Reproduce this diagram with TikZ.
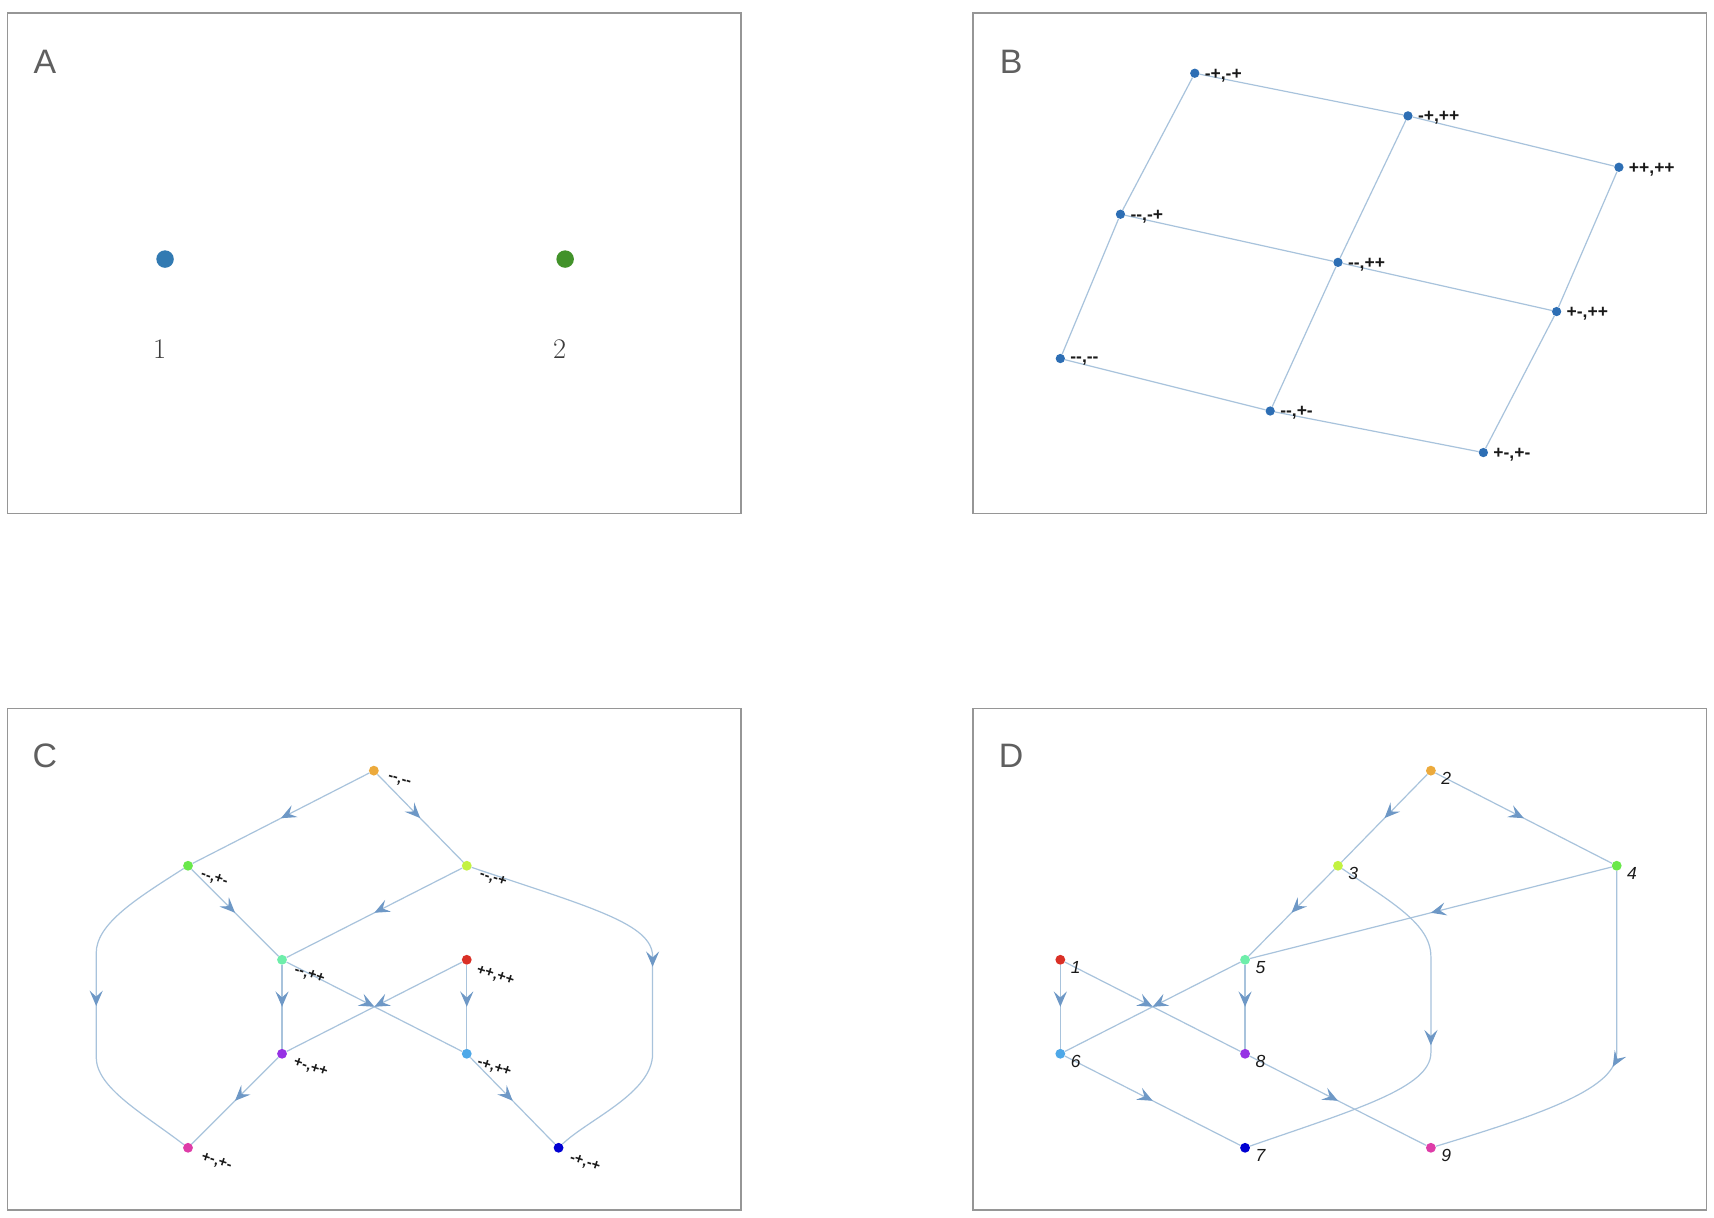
\documentclass[tikz,border=0pt]{standalone}
\usepackage{fontspec}
\newfontfamily\lsans[Ligatures=TeXOff]{Liberation Sans}
\usetikzlibrary{arrows.meta,decorations.markings,calc}
\definecolor{framegray}{RGB}{150,150,150}
\definecolor{labgray}{RGB}{95,95,95}
\definecolor{numgray}{RGB}{60,60,60}
\definecolor{labblack}{RGB}{25,25,25}
\definecolor{edgeblue}{RGB}{168,195,220}
\definecolor{arrowblue}{RGB}{110,152,198}
\definecolor{bblue}{RGB}{45,110,180}
\definecolor{adotblue}{RGB}{50,122,178}
\definecolor{adotgreen}{RGB}{66,146,42}
\definecolor{corange}{RGB}{236,170,60}
\definecolor{cgreen}{RGB}{105,232,75}
\definecolor{cygreen}{RGB}{195,242,65}
\definecolor{cmint}{RGB}{110,238,170}
\definecolor{cred}{RGB}{218,48,38}
\definecolor{cpurple}{RGB}{150,50,228}
\definecolor{clblue}{RGB}{78,168,232}
\definecolor{cpink}{RGB}{222,60,168}
\definecolor{cblue}{RGB}{0,0,210}
\begin{document}
\begin{tikzpicture}[x=1pt,y=-1pt,
  frame/.style={draw=framegray,line width=1.3pt},
  panellabel/.style={font=\lsans\fontsize{31}{31}\selectfont,text=labgray,inner sep=0},
  adot/.style={circle,inner sep=0,minimum size=16pt},
  anum/.style={font=\rmfamily\fontsize{26}{26}\selectfont,text=numgray,inner sep=0},
  bdot/.style={circle,fill=bblue,inner sep=0,minimum size=8.5pt},
  blab/.style={font=\lsans\bfseries\fontsize{16}{16}\selectfont,text=labblack,anchor=west,inner sep=0},
  bedge/.style={draw=edgeblue,line width=1.1pt},
  gdot/.style={circle,inner sep=0,minimum size=9pt},
  clab/.style={font=\lsans\bfseries\fontsize{13.5}{13.5}\selectfont,text=labblack,rotate=-18,inner sep=0},
  dlab/.style={font=\lsans\itshape\fontsize{16}{16}\selectfont,text=labblack,inner sep=0},
  dedge/.style={draw=edgeblue,line width=1.1pt,postaction={decorate},
    decoration={markings,mark=at position 0.5 with {\arrow[color=arrowblue]{Stealth[length=14pt,width=12pt,inset=5.5pt]}}}}
]
\useasboundingbox (0,0) rectangle (1568,1114);
\fill[white] (0,0) rectangle (1568,1114);

% ---------- Panel A ----------
\draw[frame] (7,12) rectangle (678,470);
\node[panellabel] (lA) at (41,57) {A};
\node[adot,fill=adotblue] (a1) at (151,237) {};
\node[adot,fill=adotgreen] (a2) at (517,237) {};
\node[anum] (n1) at (146,319) {1};
\node[anum] (n2) at (512,319) {2};

% ---------- Panel B ----------
\draw[frame] (890,12) rectangle (1561,470);
\node[panellabel] (lB) at (925,57) {B};
\node[bdot] (b1) at (1093,67) {};
\node[bdot] (b2) at (1288,106) {};
\node[bdot] (b3) at (1481,153) {};
\node[bdot] (b4) at (1025,196) {};
\node[bdot] (b5) at (1224,240) {};
\node[bdot] (b6) at (1424,285) {};
\node[bdot] (b7) at (970,328) {};
\node[bdot] (b8) at (1162,376) {};
\node[bdot] (b9) at (1357,414) {};
\draw[bedge] (b1) -- (b2) -- (b3);
\draw[bedge] (b4) -- (b5) -- (b6);
\draw[bedge] (b7) -- (b8) -- (b9);
\draw[bedge] (b1) -- (b4) -- (b7);
\draw[bedge] (b2) -- (b5) -- (b8);
\draw[bedge] (b3) -- (b6) -- (b9);
\node[blab] (tb1) at ($(b1)+(9,2)$) {-+,-+};
\node[blab] (tb2) at ($(b2)+(9,2)$) {-+,++};
\node[blab] (tb3) at ($(b3)+(9,2)$) {++,++};
\node[blab] (tb4) at ($(b4)+(9,2)$) {--,-+};
\node[blab] (tb5) at ($(b5)+(9,2)$) {--,++};
\node[blab] (tb6) at ($(b6)+(9,2)$) {+-,++};
\node[blab] (tb7) at ($(b7)+(9,2)$) {--,--};
\node[blab] (tb8) at ($(b8)+(9,2)$) {--,+-};
\node[blab] (tb9) at ($(b9)+(9,2)$) {+-,+-};

% ---------- Panel C ----------
\draw[frame] (7,648) rectangle (678,1107);
\node[panellabel] (lC) at (41,691) {C};
\node[gdot,fill=corange] (c1) at (342,705) {};
\node[gdot,fill=cgreen]  (c2) at (172,792) {};
\node[gdot,fill=cygreen] (c3) at (427,792) {};
\node[gdot,fill=cmint]   (c4) at (258,878) {};
\node[gdot,fill=cred]    (c5) at (427,878) {};
\node[gdot,fill=cpurple] (c6) at (258,964) {};
\node[gdot,fill=clblue]  (c7) at (427,964) {};
\node[gdot,fill=cpink]   (c8) at (172,1050) {};
\node[gdot,fill=cblue]   (c9) at (511,1050) {};
\draw[dedge] (c1) -- (c2);
\draw[dedge] (c1) -- (c3);
\draw[dedge] (c2) -- (c4);
\draw[dedge] (c3) -- (c4);
\draw[dedge] (c4) -- (c6);
\draw[dedge] (c4) -- (c7);
\draw[dedge] (c5) -- (c6);
\draw[dedge] (c5) -- (c7);
\draw[dedge] (c6) -- (c8);
\draw[dedge] (c7) -- (c9);
\draw[dedge] (c2) .. controls (125,822) and (88,845) .. (88,872) -- (88,967) .. controls (88,995) and (130,1018) .. (c8);
\draw[dedge] (c3) .. controls (540,830) and (597,845) .. (597,875) -- (597,964) .. controls (597,1000) and (538,1024) .. (c9);
\node[clab] (tc1) at ($(c1)+(23,10)$) {--,--};
\node[clab] (tc2) at ($(c2)+(24,12)$) {--,+-};
\node[clab] (tc3) at ($(c3)+(24,12)$) {--,-+};
\node[clab] (tc4) at ($(c4)+(25,14)$) {--,++};
\node[clab] (tc5) at ($(c5)+(26,15)$) {++,++};
\node[clab] (tc6) at ($(c6)+(26,13)$) {+-,++};
\node[clab] (tc7) at ($(c7)+(25,13)$) {-+,++};
\node[clab] (tc8) at ($(c8)+(26,13)$) {+-,+-};
\node[clab] (tc9) at ($(c9)+(24,14)$) {-+,-+};

% ---------- Panel D ----------
\draw[frame] (890,648) rectangle (1561,1107);
\node[panellabel] (lD) at (925,691) {D};
\node[gdot,fill=corange] (d2) at (1309,705) {};
\node[gdot,fill=cygreen] (d3) at (1224,792) {};
\node[gdot,fill=cgreen]  (d4) at (1479,792) {};
\node[gdot,fill=cred]    (d1) at (970,878) {};
\node[gdot,fill=cmint]   (d5) at (1139,878) {};
\node[gdot,fill=clblue]  (d6) at (970,964) {};
\node[gdot,fill=cpurple] (d8) at (1139,964) {};
\node[gdot,fill=cblue]   (d7) at (1139,1050) {};
\node[gdot,fill=cpink]   (d9) at (1309,1050) {};
\draw[dedge] (d2) -- (d3);
\draw[dedge] (d2) -- (d4);
\draw[dedge] (d3) -- (d5);
\draw[dedge] (d4) -- (d5);
\draw[dedge] (d1) -- (d6);
\draw[dedge] (d1) -- (d8);
\draw[dedge] (d5) -- (d6);
\draw[dedge] (d5) -- (d8);
\draw[dedge] (d6) -- (d7);
\draw[dedge] (d8) -- (d9);
\draw[dedge] (d3) .. controls (1272,825) and (1309,845) .. (1309,875) -- (1309,963) .. controls (1309,995) and (1240,1015) .. (d7);
\draw[dedge] (d4) -- (1479,963) .. controls (1479,995) and (1415,1018) .. (d9);
\node[dlab] (td1) at ($(d1)+(14,7)$) {1};
\node[dlab] (td2) at ($(d2)+(14,7)$) {2};
\node[dlab] (td3) at ($(d3)+(14,7)$) {3};
\node[dlab] (td4) at ($(d4)+(14,7)$) {4};
\node[dlab] (td5) at ($(d5)+(14,7)$) {5};
\node[dlab] (td6) at ($(d6)+(14,7)$) {6};
\node[dlab] (td7) at ($(d7)+(14,7)$) {7};
\node[dlab] (td8) at ($(d8)+(14,7)$) {8};
\node[dlab] (td9) at ($(d9)+(14,7)$) {9};
\end{tikzpicture}
\end{document}
